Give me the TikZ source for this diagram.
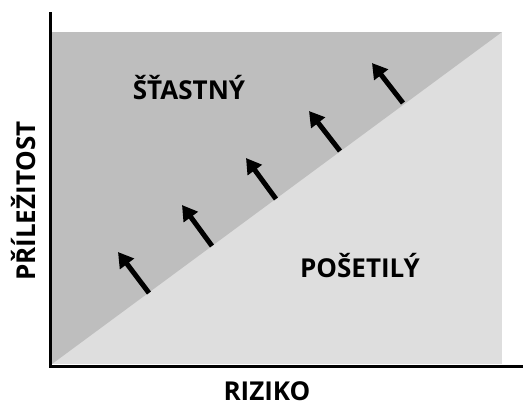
\documentclass[tikz,border=0pt]{standalone}
\usepackage{fontspec}
\setmainfont{Open Sans}
\usetikzlibrary{arrows.meta}
\definecolor{happy}{HTML}{BEBEBE}
\definecolor{foolish}{HTML}{DEDEDE}
\tikzset{
  lbl/.style={font=\bfseries\fontsize{26}{30}\selectfont, inner sep=0pt, text=black},
  push/.style={line width=5pt, -{Triangle[length=15pt,width=17pt]}},
  axisline/.style={line width=3pt, line cap=rect}
}
\begin{document}
\begin{tikzpicture}[x=1pt,y=-1pt]
  \useasboundingbox (0,0) rectangle (523,405);
  % regions
  \fill[foolish] (52,32) rectangle (502,364);
  \fill[happy] (52,32) -- (502,32) -- (52,364) -- cycle;
  % axes
  \coordinate (top) at (50.5,13);
  \coordinate (origin) at (50.5,366);
  \coordinate (right) at (523,366);
  \draw[axisline] (top) -- (origin) -- (right);
  % arrows rising off the diagonal
  \foreach \i/\tx/\ty/\hx/\hy in {1/149/293/118/252, 2/212/246/182/205, 3/276/199/246/158, 4/340/151/309/111, 5/403/103/372/63}{
    \coordinate (t\i) at (\tx,\ty);
    \coordinate (h\i) at (\hx,\hy);
    \draw[push] (t\i) -- (h\i);
  }
  % labels
  \node[lbl] (stastny) at (189,88) {ŠŤASTNÝ};
  \node[lbl] (posetily) at (360,266) {POŠETILÝ};
  \node[lbl, anchor=base] (riziko) at (267,400) {RIZIKO};
  \node[lbl, rotate=90] (prilezitost) at (24,201) {PŘÍLEŽITOST};
\end{tikzpicture}
\end{document}
